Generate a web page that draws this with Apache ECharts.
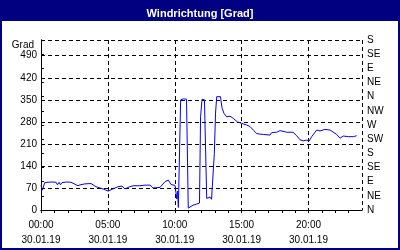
<!DOCTYPE html>
<html>
<head>
<meta charset="utf-8">
<script src="https://cdn.jsdelivr.net/npm/echarts@6/dist/echarts.min.js"></script>
<style>html,body{margin:0;padding:0;background:#fff;}#c{width:400px;height:250px;}</style>
</head>
<body>
<div id="c"></div>
<script>
const chartTitle = 'Windrichtung [Grad]';
const unitLabel = 'Grad';
const dateLabel = '30.01.19';
const directionLabels = ['N','NE','E','SE','S','SW','W','NW','N','NE','E','SE','S'];
const hours = [0.00,0.10,0.28,0.52,0.82,1.12,1.23,1.35,1.46,1.57,1.64,1.94,2.24,2.54,2.77,2.92,3.29,3.74,3.89,4.11,4.41,4.64,5.01,5.38,5.76,6.06,6.28,6.58,6.88,7.40,7.78,8.15,8.37,8.67,8.90,9.27,9.52,9.72,10.02,10.15,10.21,10.27,10.44,10.64,10.88,11.01,11.14,11.36,11.64,11.85,11.93,12.04,12.15,12.22,12.39,12.51,12.64,12.75,12.86,12.96,13.05,13.14,13.42,13.53,13.68,13.88,14.13,14.38,14.68,15.01,15.38,15.63,15.87,16.13,16.37,16.62,17.12,17.25,17.62,17.87,18.09,18.37,18.84,19.12,19.36,19.61,19.87,20.04,20.24,20.61,20.86,21.23,21.61,22.11,22.36,22.60,22.98,23.36,23.60];
const degrees = [79,63,87,88,89,88,80,88,80,87,88,89,88,82,77,80,83,84,80,74,70,67,60,67,74,76,67,73,77,77,79,79,70,71,72,90,95,81,78,35,60,8,350,353,352,6,9,15,19,22,296,352,354,350,37,32,41,34,38,180,308,360,360,325,307,296,298,291,280,275,270,265,254,243,241,240,238,246,247,252,250,247,247,236,223,220,222,219,233,254,251,256,254,240,228,235,233,233,236];

const lineData = hours.map((h, i) => [h, degrees[i]]);
const font = 'Liberation Sans';
const navy = '#000080';

const chart = echarts.init(document.getElementById('c'), null, {renderer: 'canvas'});
chart.setOption({
  animation: false,
  backgroundColor: '#fff',
  title: {
    text: chartTitle, left: 'center', top: 3,
    textStyle: {color: '#fff', fontFamily: font, fontSize: 11, fontWeight: 'bold'}
  },
  graphic: [
    {type: 'rect', shape: {x: 0, y: 0, width: 400, height: 21}, style: {fill: navy}, z: -1},
    {type: 'rect', shape: {x: 0, y: 0, width: 2, height: 250}, style: {fill: navy}, z: -1},
    {type: 'rect', shape: {x: 398, y: 0, width: 2, height: 250}, style: {fill: navy}, z: -1},
    {type: 'rect', shape: {x: 0, y: 248, width: 400, height: 2}, style: {fill: navy}, z: -1},
    {type: 'text', x: 34, y: 45, style: {text: unitLabel, fill: '#000', font: '10px ' + font, align: 'right', verticalAlign: 'middle'}}
  ],
  grid: {left: 41, right: 38, top: 40, bottom: 40, containLabel: false},
  xAxis: [
    {
      type: 'value', position: 'bottom', min: 0, max: 24, interval: 1,
      axisLine: {show: true, lineStyle: {color: '#000', width: 1}},
      axisTick: {show: true, length: 3, lineStyle: {color: '#000'}},
      axisLabel: {
        show: true, margin: 8, lineHeight: 15, color: '#000', fontFamily: font, fontSize: 10,
        showMaxLabel: false,
        formatter: v => (v % 5 === 0 && v < 24) ? (String(v).padStart(2, '0') + ':00\n' + dateLabel) : ''
      },
      splitLine: {show: false}
    },
    {
      type: 'value', position: 'top', min: 0, max: 24, interval: 5,
      axisLine: {show: true, lineStyle: {color: '#000', width: 1}},
      axisTick: {show: false}, axisLabel: {show: false},
      splitLine: {show: true, lineStyle: {color: '#000', type: [4, 3], width: 1}}
    }
  ],
  yAxis: [
    {
      type: 'value', position: 'left', min: 0, max: 540, interval: 70,
      axisLine: {show: true, lineStyle: {color: '#000', width: 1}},
      axisTick: {show: false},
      axisLabel: {show: true, margin: 4, color: '#000', fontFamily: font, fontSize: 10,
        showMaxLabel: false, formatter: v => v > 500 ? '' : String(v)},
      splitLine: {show: true, lineStyle: {color: '#000', type: [4, 3], width: 1}}
    },
    {
      type: 'value', position: 'right', min: 0, max: 540, interval: 45,
      axisLine: {show: true, lineStyle: {color: '#000', width: 1}},
      axisTick: {show: true, length: 3, lineStyle: {color: '#000'}},
      axisLabel: {show: true, margin: 5, color: '#000', fontFamily: font, fontSize: 10,
        showMinLabel: true, showMaxLabel: true,
        formatter: v => directionLabels[Math.round(v / 45)] || ''},
      splitLine: {show: false}
    }
  ],
  series: [{
    type: 'line', xAxisIndex: 0, yAxisIndex: 0, data: lineData,
    showSymbol: false, symbol: 'none', smooth: false,
    lineStyle: {color: '#0000ff', width: 1}
  }]
});
</script>
</body>
</html>
